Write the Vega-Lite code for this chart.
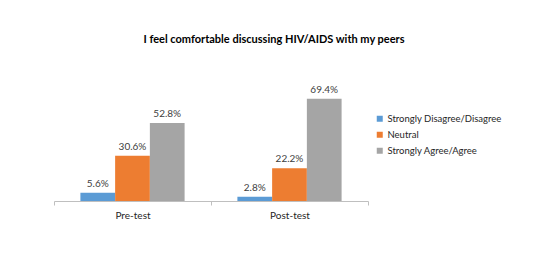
{
  "$schema": "https://vega.github.io/schema/vega-lite/v6.json",
  "width": 314,
  "height": 118,
  "autosize": "none",
  "padding": {"left": 54, "top": 83, "right": 179, "bottom": 54},
  "background": "white",
  "title": {
    "text": "I feel comfortable discussing HIV/AIDS with my peers",
    "font": "Lato",
    "fontSize": 11,
    "fontWeight": "bold",
    "color": "#000000",
    "anchor": "middle",
    "frame": "group",
    "dx": 63,
    "offset": 38
  },
  "data": {
    "values": [
      {"test": "Pre-test", "response": "Strongly Disagree/Disagree", "share": 0.056},
      {"test": "Pre-test", "response": "Neutral", "share": 0.306},
      {"test": "Pre-test", "response": "Strongly Agree/Agree", "share": 0.528},
      {"test": "Post-test", "response": "Strongly Disagree/Disagree", "share": 0.028},
      {"test": "Post-test", "response": "Neutral", "share": 0.222},
      {"test": "Post-test", "response": "Strongly Agree/Agree", "share": 0.694}
    ]
  },
  "encoding": {
    "x": {
      "field": "test",
      "type": "nominal",
      "sort": ["Pre-test", "Post-test"],
      "scale": {"paddingInner": 0, "paddingOuter": 0},
      "axis": {
        "title": null,
        "labelAngle": 0,
        "labelFont": "Lato",
        "labelFontSize": 10,
        "labelColor": "#262626",
        "labelPadding": 5,
        "domainColor": "#BFBFBF",
        "tickColor": "#BFBFBF",
        "tickBand": "extent",
        "tickSize": 4
      }
    },
    "xOffset": {
      "field": "response",
      "type": "nominal",
      "sort": ["Strongly Disagree/Disagree", "Neutral", "Strongly Agree/Agree"],
      "scale": {"paddingInner": 0, "paddingOuter": 0.76}
    },
    "y": {
      "field": "share",
      "type": "quantitative",
      "scale": {"domain": [0, 0.8]},
      "axis": null
    }
  },
  "layer": [
    {
      "mark": {"type": "bar"},
      "encoding": {
        "color": {
          "field": "response",
          "type": "nominal",
          "sort": ["Strongly Disagree/Disagree", "Neutral", "Strongly Agree/Agree"],
          "scale": {
            "domain": ["Strongly Disagree/Disagree", "Neutral", "Strongly Agree/Agree"],
            "range": ["#5B9BD5", "#ED7D31", "#A5A5A5"]
          },
          "legend": {
            "title": null,
            "orient": "none",
            "legendX": 321,
            "legendY": 31,
            "symbolType": "square",
            "symbolSize": 36,
            "symbolStrokeWidth": 0,
            "labelFont": "Lato",
            "labelFontSize": 9.5,
            "labelColor": "#262626",
            "rowPadding": 5,
            "labelOffset": 3,
            "padding": 0
          }
        }
      }
    },
    {
      "mark": {"type": "text", "baseline": "bottom", "dy": -4, "font": "Lato", "fontSize": 10, "color": "#404040"},
      "encoding": {
        "text": {"field": "share", "type": "quantitative", "format": ".1%"}
      }
    }
  ],
  "config": {"view": {"stroke": null}}
}
